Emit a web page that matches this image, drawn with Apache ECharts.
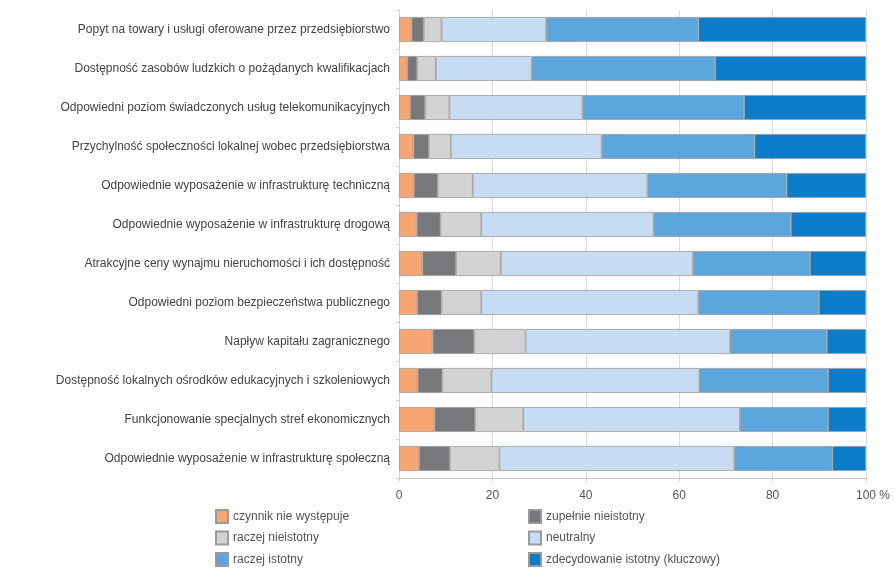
<!DOCTYPE html>
<html><head><meta charset="utf-8">
<script src="https://cdn.jsdelivr.net/npm/echarts@6/dist/echarts.min.js"></script>
<style>html,body{margin:0;padding:0;background:#fff}#c{width:895px;height:568px}</style>
</head><body><div id="c"></div>
<script>
const categories = [
  'Popyt na towary i usługi oferowane przez przedsiębiorstwo',
  'Dostępność zasobów ludzkich o pożądanych kwalifikacjach',
  'Odpowiedni poziom świadczonych usług telekomunikacyjnych',
  'Przychylność społeczności lokalnej wobec przedsiębiorstwa',
  'Odpowiednie wyposażenie w infrastrukturę techniczną',
  'Odpowiednie wyposażenie w infrastrukturę drogową',
  'Atrakcyjne ceny wynajmu nieruchomości i ich dostępność',
  'Odpowiedni poziom bezpieczeństwa publicznego',
  'Napływ kapitału zagranicznego',
  'Dostępność lokalnych ośrodków edukacyjnych i szkoleniowych',
  'Funkcjonowanie specjalnych stref ekonomicznych',
  'Odpowiednie wyposażenie w infrastrukturę społeczną'
];
const seriesNames = [
  'czynnik nie występuje',
  'zupełnie nieistotny',
  'raczej nieistotny',
  'neutralny',
  'raczej istotny',
  'zdecydowanie istotny (kluczowy)'
];
const czynnikNieWystepuje = [2.7, 1.8, 2.4, 3.1, 3.2, 3.8, 5.0, 3.9, 7.2, 4.0, 7.6, 4.3];
const zupelnieNieistotny  = [2.6, 2.1, 3.2, 3.3, 5.1, 5.1, 7.2, 5.2, 8.9, 5.3, 8.7, 6.6];
const raczejNieistotny    = [3.8, 4.0, 5.2, 4.7, 7.5, 8.7, 9.6, 8.5, 11.0, 10.5, 10.3, 10.6];
const neutralny           = [22.4, 20.5, 28.5, 32.3, 37.4, 36.9, 41.1, 46.5, 43.8, 44.5, 46.4, 50.3];
const raczejIstotny       = [32.6, 39.3, 34.6, 32.7, 29.8, 29.4, 25.1, 25.8, 20.7, 27.6, 18.9, 21.0];
const zdecydowanieIstotny = [35.9, 32.3, 26.1, 23.9, 17.0, 16.1, 12.0, 10.1, 8.4, 8.1, 8.1, 7.2];
const xTicks = [0, 20, 40, 60, 80, 100];

const values = [czynnikNieWystepuje, zupelnieNieistotny, raczejNieistotny, neutralny, raczejIstotny, zdecydowanieIstotny];
const colors = ['#f5a673', '#76787b', '#d3d3d3', '#c7dcf2', '#5ba6dd', '#0b7cc9'];

const chart = echarts.init(document.getElementById('c'), null, {renderer: 'canvas'});
const font = 'Liberation Sans, Arial, sans-serif';
const legendLefts = [215, 528];
const legendTops = [509, 530.5, 552];
const legends = seriesNames.map((n, i) => ({
  left: legendLefts[i % 2], top: legendTops[Math.floor(i / 2)], padding: 0,
  itemWidth: 12, itemHeight: 13, icon: 'rect',
  textStyle: {color: '#555', fontFamily: font, fontSize: 12},
  data: [n]
}));
chart.setOption({
  animation: false,
  color: colors,
  grid: {left: 399, right: 29, top: 10, bottom: 90, containLabel: false},
  xAxis: {
    type: 'value', min: xTicks[0], max: xTicks[xTicks.length - 1], interval: 20,
    axisLine: {show: true, lineStyle: {color: '#c8c8c8'}},
    axisTick: {show: true, length: 3, lineStyle: {color: '#c8c8c8'}},
    splitLine: {show: true, lineStyle: {color: '#dcdcdc', width: 1}},
    axisLabel: {
      color: '#555', fontFamily: font, fontSize: 12, margin: 12,
      formatter: v => v === 100 ? '{p|100 %}' : String(v),
      rich: {p: {color: '#555', fontFamily: font, fontSize: 12, padding: [0, 0, 0, 14]}}
    }
  },
  yAxis: {
    type: 'category', data: categories, inverse: true,
    axisLine: {show: true, lineStyle: {color: '#d0d0d0'}},
    axisTick: {show: true, length: 3, lineStyle: {color: '#d0d0d0'}},
    axisLabel: {color: '#444', fontFamily: font, fontSize: 12, margin: 9}
  },
  legend: legends,
  series: seriesNames.map((n, i) => ({
    name: n, type: 'bar', stack: 'all', data: values[i], barWidth: 25,
    itemStyle: {color: colors[i], borderColor: '#9a9a9a', borderWidth: 0.8}
  }))
});
</script></body></html>
